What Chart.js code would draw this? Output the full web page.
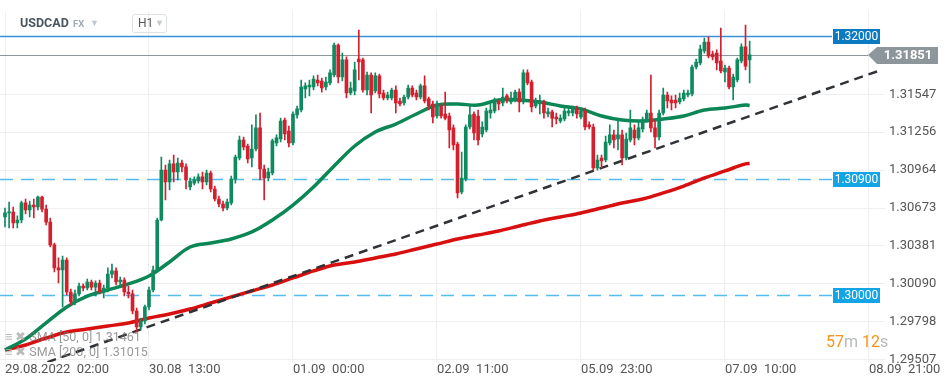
<!DOCTYPE html>
<html>
<head>
<meta charset="utf-8">
<script src="https://cdn.jsdelivr.net/npm/chart.js@4.4.1/dist/chart.umd.min.js"></script>
<style>
  html, body { margin: 0; padding: 0; background: #fff; }
  #wrap { position: relative; width: 949px; height: 384px; font-family: Roboto, "Noto Sans", sans-serif; }
  canvas { position: absolute; left: 0; top: 0; }
  .hdr { position: absolute; top: 14px; left: 20px; height: 18px; line-height: 18px; color: #4a5560; font-weight: bold; font-size: 12.5px; }
  .fx { position: absolute; top: 15px; left: 73px; line-height: 18px; color: #a3abb2; font-weight: bold; font-size: 9.5px; }
  .tri { position: absolute; color: #c3c8cc; font-size: 9px; line-height: 18px; }
  .h1 { position: absolute; top: 14px; left: 132px; width: 33px; height: 17px; border: 1px solid #dfe2e5; border-radius: 3px; }
  .h1 span { position: absolute; left: 5px; top: 0; line-height: 17px; font-size: 12px; color: #555; }
  .leg { position: absolute; left: 5px; font-size: 12.5px; color: rgba(110,110,110,0.7); line-height: 14px; white-space: pre; }
  .leg b { font-weight: normal; color: rgba(170,170,170,0.8); letter-spacing: 3px; }
  .timer { position: absolute; left: 826px; top: 332px; font-size: 16px; line-height: 20px; white-space: pre; }
  .timer .o { color: #f7931e; }
  .timer .g { color: #b5b9bd; }
</style>
</head>
<body>
<div id="wrap">
  <canvas id="myChart" width="949" height="384"></canvas>
  <div class="hdr">USDCAD</div>
  <div class="fx">FX</div>
  <div class="tri" style="left:90px;top:14px;">&#9660;</div>
  <div class="h1"><span>H1</span><div class="tri" style="left:22px;top:0;line-height:17px;">&#9660;</div></div>
  <div class="leg" style="top:330px;"><b>&#8801;&#10006;</b>SMA [50, 0] 1.31461</div>
  <div class="leg" style="top:345px;"><b>&#8801;&#10006;</b>SMA [200, 0] 1.31015</div>
  <div class="timer"><span class="o">57</span><span class="g">m </span><span class="o">12</span><span class="g">s</span></div>
</div>
<script>
// H1 candles, USDCAD, 29.08.2022 02:00 onwards
const opens = [
  1.30604, 1.30635, 1.30642, 1.30558, 1.30581, 1.30712, 1.30658, 1.30696, 1.30681, 1.30758,
  1.30665, 1.30565, 1.30389, 1.30212, 1.30196, 1.30273, 1.30027, 1.29950, 1.30012, 1.30073,
  1.30058, 1.30104, 1.30065, 1.30096, 1.30027, 1.30058, 1.30165, 1.30189, 1.30104, 1.30119,
  1.30027, 1.30012, 1.29881, 1.29758, 1.29804, 1.29912, 1.30042, 1.30196, 1.30581, 1.30965,
  1.30873, 1.31012, 1.30950, 1.31019, 1.30989, 1.30835, 1.30865, 1.30881, 1.30912, 1.30873,
  1.30942, 1.30819, 1.30742, 1.30704, 1.30673, 1.30712, 1.30896, 1.31058, 1.31196, 1.31150,
  1.31058, 1.31127, 1.31289, 1.30973, 1.30904, 1.30942, 1.31173, 1.31204, 1.31350, 1.31265,
  1.31173, 1.31389, 1.31427, 1.31589, 1.31604, 1.31604, 1.31658, 1.31650, 1.31604, 1.31635,
  1.31696, 1.31927, 1.31681, 1.31812, 1.31558, 1.31573, 1.31819, 1.31812, 1.31581, 1.31696,
  1.31573, 1.31689, 1.31558, 1.31519, 1.31519, 1.31581, 1.31496, 1.31481, 1.31527, 1.31596,
  1.31558, 1.31527, 1.31612, 1.31512, 1.31473, 1.31381, 1.31458, 1.31396, 1.31381, 1.31289,
  1.31165, 1.30796, 1.30896, 1.31296, 1.31396, 1.31381, 1.31242, 1.31273, 1.31404, 1.31419,
  1.31489, 1.31481, 1.31535, 1.31489, 1.31504, 1.31565, 1.31489, 1.31712, 1.31642, 1.31458,
  1.31473, 1.31489, 1.31396, 1.31412, 1.31373, 1.31342, 1.31358, 1.31404, 1.31404, 1.31435,
  1.31373, 1.31419, 1.31312, 1.31296, 1.30981, 1.31058, 1.31042, 1.31173, 1.31235, 1.31204,
  1.31235, 1.31058, 1.31196, 1.31273, 1.31212, 1.31281, 1.31350, 1.31404, 1.31289, 1.31219,
  1.31404, 1.31542, 1.31504, 1.31504, 1.31489, 1.31512, 1.31542, 1.31550, 1.31758, 1.31789,
  1.31881, 1.31950, 1.31858, 1.31865, 1.31804, 1.31719, 1.31750, 1.31604, 1.31658, 1.31804,
  1.31912, 1.31812
];
const highs = [
  1.30673, 1.30719, 1.30681, 1.30612, 1.30727, 1.30742, 1.30727, 1.30742, 1.30765, 1.30765,
  1.30696, 1.30596, 1.30404, 1.30289, 1.30304, 1.30289, 1.30050, 1.30042, 1.30096, 1.30089,
  1.30127, 1.30119, 1.30112, 1.30119, 1.30081, 1.30212, 1.30242, 1.30212, 1.30142, 1.30135,
  1.30073, 1.30042, 1.29904, 1.29827, 1.29927, 1.30065, 1.30227, 1.30596, 1.31065, 1.31004,
  1.31042, 1.31081, 1.31058, 1.31042, 1.31012, 1.30904, 1.30912, 1.30935, 1.30950, 1.30965,
  1.30958, 1.30842, 1.30765, 1.30727, 1.30742, 1.30919, 1.31081, 1.31227, 1.31219, 1.31165,
  1.31312, 1.31389, 1.31404, 1.31004, 1.30981, 1.31204, 1.31235, 1.31365, 1.31365, 1.31304,
  1.31412, 1.31458, 1.31658, 1.31635, 1.31658, 1.31689, 1.31696, 1.31673, 1.31681, 1.31735,
  1.31942, 1.31935, 1.31865, 1.31835, 1.31642, 1.31796, 1.32042, 1.31827, 1.31719, 1.31712,
  1.31712, 1.31704, 1.31581, 1.31565, 1.31596, 1.31612, 1.31519, 1.31542, 1.31619, 1.31612,
  1.31581, 1.31627, 1.31689, 1.31527, 1.31496, 1.31496, 1.31473, 1.31565, 1.31404, 1.31312,
  1.31181, 1.31104, 1.31312, 1.31473, 1.31412, 1.31427, 1.31335, 1.31442, 1.31473, 1.31519,
  1.31504, 1.31596, 1.31550, 1.31565, 1.31581, 1.31589, 1.31735, 1.31735, 1.31658, 1.31519,
  1.31542, 1.31504, 1.31442, 1.31427, 1.31404, 1.31389, 1.31442, 1.31442, 1.31458, 1.31458,
  1.31442, 1.31442, 1.31335, 1.31319, 1.31081, 1.31081, 1.31227, 1.31312, 1.31273, 1.31350,
  1.31273, 1.31250, 1.31427, 1.31312, 1.31335, 1.31373, 1.31427, 1.31696, 1.31350, 1.31427,
  1.31596, 1.31565, 1.31535, 1.31542, 1.31558, 1.31581, 1.31581, 1.31773, 1.31819, 1.31927,
  1.31981, 1.31989, 1.31881, 1.31889, 1.32058, 1.31773, 1.31765, 1.31704, 1.31827, 1.31935,
  1.32081, 1.31958
];
const lows = [
  1.30527, 1.30519, 1.30519, 1.30519, 1.30558, 1.30627, 1.30604, 1.30596, 1.30658, 1.30642,
  1.30542, 1.30373, 1.30181, 1.30096, 1.29912, 1.30004, 1.29927, 1.29927, 1.29996, 1.30035,
  1.30042, 1.30042, 1.29996, 1.30012, 1.29981, 1.30027, 1.30135, 1.30081, 1.30073, 1.29996,
  1.29981, 1.29858, 1.29719, 1.29735, 1.29781, 1.29889, 1.30027, 1.30181, 1.30573, 1.30735,
  1.30812, 1.30873, 1.30889, 1.30950, 1.30819, 1.30812, 1.30850, 1.30865, 1.30819, 1.30850,
  1.30796, 1.30727, 1.30681, 1.30650, 1.30658, 1.30696, 1.30865, 1.31042, 1.31119, 1.31019,
  1.30989, 1.31112, 1.30889, 1.30735, 1.30881, 1.30927, 1.31150, 1.31181, 1.31196, 1.31142,
  1.31158, 1.31365, 1.31412, 1.31519, 1.31535, 1.31581, 1.31612, 1.31565, 1.31581, 1.31619,
  1.31681, 1.31635, 1.31650, 1.31519, 1.31542, 1.31542, 1.31658, 1.31565, 1.31542, 1.31404,
  1.31558, 1.31519, 1.31504, 1.31504, 1.31504, 1.31404, 1.31458, 1.31465, 1.31512, 1.31527,
  1.31504, 1.31512, 1.31481, 1.31427, 1.31327, 1.31365, 1.31365, 1.31350, 1.31135, 1.31119,
  1.30750, 1.30781, 1.30881, 1.31281, 1.31196, 1.31158, 1.31219, 1.31258, 1.31365, 1.31404,
  1.31427, 1.31458, 1.31481, 1.31473, 1.31489, 1.31412, 1.31473, 1.31619, 1.31412, 1.31442,
  1.31396, 1.31365, 1.31373, 1.31296, 1.31319, 1.31327, 1.31342, 1.31381, 1.31381, 1.31365,
  1.31358, 1.31273, 1.31281, 1.30965, 1.30965, 1.30981, 1.31027, 1.31158, 1.31135, 1.31119,
  1.31004, 1.31042, 1.31181, 1.31158, 1.31196, 1.31258, 1.31335, 1.31258, 1.31135, 1.31196,
  1.31389, 1.31442, 1.31427, 1.31442, 1.31473, 1.31496, 1.31527, 1.31535, 1.31742, 1.31773,
  1.31865, 1.31827, 1.31812, 1.31735, 1.31712, 1.31642, 1.31589, 1.31504, 1.31642, 1.31789,
  1.31735, 1.31635
];
const closes = [
  1.30635, 1.30642, 1.30558, 1.30581, 1.30712, 1.30658, 1.30696, 1.30681, 1.30758, 1.30665,
  1.30565, 1.30389, 1.30212, 1.30196, 1.30273, 1.30027, 1.29950, 1.30012, 1.30073, 1.30058,
  1.30104, 1.30065, 1.30096, 1.30027, 1.30058, 1.30165, 1.30189, 1.30104, 1.30119, 1.30027,
  1.30012, 1.29881, 1.29758, 1.29804, 1.29912, 1.30042, 1.30196, 1.30581, 1.30965, 1.30873,
  1.31012, 1.30950, 1.31019, 1.30989, 1.30889, 1.30881, 1.30889, 1.30912, 1.30873, 1.30942,
  1.30819, 1.30742, 1.30704, 1.30673, 1.30719, 1.30896, 1.31065, 1.31196, 1.31142, 1.31050,
  1.31127, 1.31289, 1.30973, 1.30904, 1.30950, 1.31189, 1.31212, 1.31342, 1.31242, 1.31173,
  1.31396, 1.31435, 1.31604, 1.31612, 1.31619, 1.31665, 1.31635, 1.31596, 1.31642, 1.31712,
  1.31927, 1.31681, 1.31812, 1.31558, 1.31596, 1.31735, 1.31796, 1.31581, 1.31696, 1.31542,
  1.31689, 1.31550, 1.31519, 1.31542, 1.31581, 1.31481, 1.31473, 1.31527, 1.31596, 1.31542,
  1.31527, 1.31612, 1.31496, 1.31458, 1.31373, 1.31473, 1.31381, 1.31365, 1.31273, 1.31158,
  1.30789, 1.30904, 1.31296, 1.31389, 1.31250, 1.31196, 1.31296, 1.31419, 1.31427, 1.31489,
  1.31473, 1.31527, 1.31504, 1.31519, 1.31565, 1.31489, 1.31712, 1.31635, 1.31450, 1.31489,
  1.31489, 1.31404, 1.31412, 1.31365, 1.31358, 1.31365, 1.31419, 1.31419, 1.31435, 1.31396,
  1.31419, 1.31296, 1.31296, 1.30981, 1.31042, 1.31035, 1.31181, 1.31235, 1.31196, 1.31235,
  1.31058, 1.31204, 1.31289, 1.31212, 1.31289, 1.31350, 1.31404, 1.31289, 1.31219, 1.31404,
  1.31542, 1.31496, 1.31481, 1.31481, 1.31519, 1.31558, 1.31558, 1.31758, 1.31796, 1.31896,
  1.31950, 1.31842, 1.31835, 1.31789, 1.31727, 1.31750, 1.31604, 1.31681, 1.31812, 1.31912,
  1.31765, 1.31851
];

// moving averages, read every 5 candles
const smaIdx = [0, 5, 10, 15, 20, 25, 30, 35, 40, 45, 50, 55, 60, 65, 70, 75, 80, 85, 90, 95,
  100, 105, 110, 115, 120, 125, 130, 135, 140, 145, 150, 155, 160, 165, 170, 175, 180, 181];
const sma50 = [1.29581, 1.29665, 1.29789, 1.29912, 1.29996, 1.30042, 1.30089, 1.30150, 1.30258, 1.30373,
  1.30404, 1.30435, 1.30489, 1.30581, 1.30696, 1.30835, 1.30996, 1.31150, 1.31258, 1.31319,
  1.31396, 1.31465, 1.31473, 1.31465, 1.31504, 1.31504, 1.31489, 1.31458, 1.31435, 1.31381,
  1.31350, 1.31342, 1.31358, 1.31381, 1.31427, 1.31442, 1.31465, 1.31461];
const sma200 = [1.29581, 1.29619, 1.29673, 1.29719, 1.29742, 1.29765, 1.29789, 1.29827, 1.29858, 1.29896,
  1.29942, 1.29989, 1.30035, 1.30081, 1.30135, 1.30189, 1.30235, 1.30258, 1.30289, 1.30319,
  1.30358, 1.30396, 1.30435, 1.30465, 1.30496, 1.30535, 1.30573, 1.30604, 1.30635, 1.30673,
  1.30712, 1.30742, 1.30789, 1.30842, 1.30904, 1.30958, 1.31012, 1.31015];

// trend line
const trendIdx = [0, 213];
const trendVals = [1.29373, 1.31735];

// price levels
const levelBlue = 1.32000;
const levelLast = 1.31851;
const levelDashed = [1.30900, 1.30000];

const yTicks = [1.29507, 1.29798, 1.30090, 1.30381, 1.30673, 1.30964, 1.31256, 1.31547];
const xTickIdx = [0, 35, 70, 105, 140, 175, 210];
const xTickLabels = ['29.08.2022  02:00', '30.08  13:00', '01.09  00:00', '02.09  11:00',
  '05.09  23:00', '07.09  10:00', '08.09  21:00'];

const UP = '#0f8a5f';
const DOWN = '#d41f2e';
const candleColors = closes.map((c, i) => c >= opens[i] ? UP : DOWN);

const bodies = opens.map((o, i) => ({ x: i, y: [o, closes[i]] }));
const wicks = lows.map((l, i) => ({ x: i, y: [l, highs[i]] }));

// viewport of the terminal: px per candle, first candle at x=5, 1.32000 at y=35.5
const PX_PER_BAR = 4.114;
const PX_PER_UNIT = 13000;

let fitted = false;
const viewportPlugin = {
  id: 'viewport',
  afterLayout(chart) {
    if (fitted) return;
    fitted = true;
    const a = chart.chartArea;
    const sx = chart.options.scales.x, sy = chart.options.scales.y;
    sx.min = (a.left - 5) / PX_PER_BAR;
    sx.max = (a.right - 5) / PX_PER_BAR;
    sy.max = levelBlue + (35.5 - a.top) / PX_PER_UNIT;
    sy.min = levelBlue - (a.bottom - 35.5) / PX_PER_UNIT;
    setTimeout(() => chart.update('none'), 0);
  }
};

const levelsPlugin = {
  id: 'levels',
  beforeDatasetsDraw(chart) {
    const ctx = chart.ctx;
    const y = chart.scales.y;
    ctx.save();
    ctx.lineWidth = 1.5;
    ctx.strokeStyle = '#3592d6';
    let py = Math.round(y.getPixelForValue(levelBlue)) + 0.5;
    ctx.beginPath(); ctx.moveTo(0, py); ctx.lineTo(832, py); ctx.stroke();
    ctx.lineWidth = 1.2;
    ctx.strokeStyle = '#8d969b';
    py = Math.round(y.getPixelForValue(levelLast)) + 0.5;
    ctx.beginPath(); ctx.moveTo(0, py); ctx.lineTo(868, py); ctx.stroke();
    ctx.lineWidth = 1.5;
    ctx.strokeStyle = '#56bbee';
    ctx.setLineDash([13, 8]);
    levelDashed.forEach(v => {
      const p = Math.round(y.getPixelForValue(v)) + 0.5;
      ctx.beginPath(); ctx.moveTo(0, p); ctx.lineTo(832, p); ctx.stroke();
    });
    ctx.restore();
  },
  afterDatasetsDraw(chart) {
    const ctx = chart.ctx;
    const y = chart.scales.y;
    ctx.save();
    ctx.textBaseline = 'middle';
    ctx.textAlign = 'center';
    const box = (v, color) => {
      const p = Math.round(y.getPixelForValue(v));
      ctx.fillStyle = color;
      ctx.fillRect(833, p - 7, 47, 15);
      ctx.fillStyle = '#fff';
      ctx.font = '12px Roboto';
      ctx.fillText(v.toFixed(5), 856.5, p + 0.5);
    };
    box(levelBlue, '#0a7bc2');
    levelDashed.forEach(v => box(v, '#13a4e6'));
    // last price tag
    const p = Math.round(y.getPixelForValue(levelLast));
    ctx.fillStyle = '#8d969b';
    ctx.beginPath();
    ctx.moveTo(868, p);
    ctx.lineTo(877, p - 8);
    ctx.lineTo(938, p - 8);
    ctx.lineTo(938, p + 9);
    ctx.lineTo(877, p + 9);
    ctx.closePath();
    ctx.fill();
    ctx.fillStyle = '#fff';
    ctx.font = 'bold 13px Roboto';
    ctx.fillText(levelLast.toFixed(5), 908, p + 1);
    ctx.restore();
  }
};

const ctx = document.getElementById('myChart').getContext('2d');
const myChart = new Chart(ctx, {
  type: 'bar',
  data: {
    datasets: [
      {
        type: 'bar',
        data: bodies,
        backgroundColor: candleColors,
        barThickness: 3,
        minBarLength: 1,
        grouped: false,
        order: 0
      },
      {
        type: 'bar',
        data: wicks,
        backgroundColor: candleColors,
        barThickness: 1,
        grouped: false,
        order: 1
      },
      {
        type: 'line',
        data: trendIdx.map((x, i) => ({ x: x, y: trendVals[i] })),
        borderColor: '#2f3236',
        borderWidth: 2.5,
        borderDash: [9, 6],
        pointRadius: 0,
        order: 2
      },
      {
        type: 'line',
        data: smaIdx.map((x, i) => ({ x: x, y: sma50[i] })),
        borderColor: '#0b8655',
        borderWidth: 3.5,
        pointRadius: 0,
        tension: 0.35,
        order: 3
      },
      {
        type: 'line',
        data: smaIdx.map((x, i) => ({ x: x, y: sma200[i] })),
        borderColor: '#d80f0f',
        borderWidth: 3.5,
        pointRadius: 0,
        tension: 0.35,
        order: 4
      }
    ]
  },
  options: {
    responsive: false,
    animation: false,
    layout: { padding: 0, autoPadding: false },
    plugins: { legend: { display: false }, tooltip: { enabled: false } },
    scales: {
      x: {
        type: 'linear',
        offset: false,
        min: -1.215,
        max: 213.9,
        grid: { color: '#efefef', drawTicks: false, offset: false },
        border: { display: false },
        afterBuildTicks: axis => { axis.ticks = xTickIdx.map(v => ({ value: v })); },
        afterFit: axis => { axis.height = 22; },
        ticks: {
          align: 'start',
          padding: 0,
          color: '#555',
          font: { family: 'Roboto', size: 13 },
          maxRotation: 0,
          callback: (v, i) => xTickLabels[i]
        }
      },
      y: {
        position: 'right',
        min: 1.294885,
        max: 1.322731,
        grid: { color: '#efefef', drawTicks: false },
        border: { display: false },
        afterBuildTicks: axis => { axis.ticks = yTicks.map(v => ({ value: v })); },
        afterFit: axis => { axis.width = 64; },
        ticks: {
          padding: 4,
          color: '#555',
          font: { family: 'Roboto', size: 13 },
          callback: v => v.toFixed(5)
        }
      }
    }
  },
  plugins: [viewportPlugin, levelsPlugin]
});
</script>
</body>
</html>
